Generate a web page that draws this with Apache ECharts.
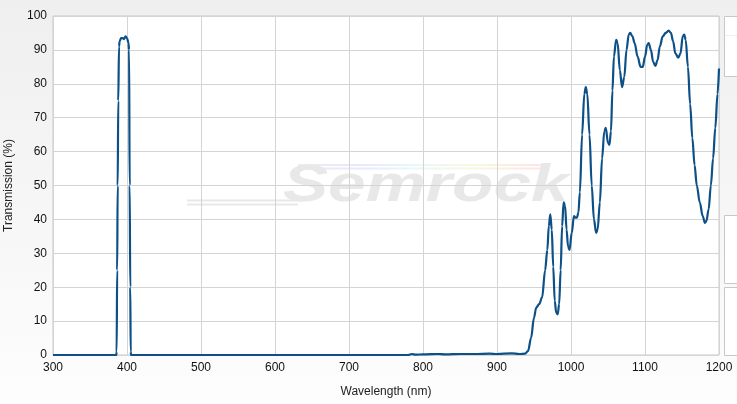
<!DOCTYPE html>
<html>
<head>
<meta charset="utf-8">
<script src="https://cdn.jsdelivr.net/npm/echarts@6/dist/echarts.min.js"></script>
<style>
html,body{margin:0;padding:0;}
#c{width:737px;height:404px;}
</style>
</head>
<body>
<div id="c"></div>
<script>
const wavelengths = [300,380,385.5,386,386.7,387.4,388.2,389.2,390,392,394,396,398,400,402,402.8,403.6,404.4,405,405.6,500,780,785,790,800,820,830,850,870,890,900,920,930,938,942,946,950,953,957,961,965,968,970,972,974,976,978,980,982,984,986,988,990,992,994,996,998,1001,1004,1006,1008,1010,1012,1015,1018,1020,1022,1025,1028,1031,1034,1036,1039,1042,1045,1047,1050,1052,1054,1056,1058,1061,1063,1066,1069,1072,1075,1078,1080,1083,1086,1090,1094,1097,1100,1103,1105,1108,1111,1114,1117,1120,1124,1128,1132,1135,1138,1141,1145,1148,1151,1153,1155,1158,1161,1164,1167,1170,1174,1178,1181,1183,1186,1189,1192,1195,1198,1200];
const transmission = [0,0,0,1,25,50,75,91,92.5,93.5,93.5,93.2,94,93.5,92,90,50,20,1,0,0,0,0.3,0.1,0.2,0.3,0.2,0.3,0.3,0.4,0.3,0.5,0.3,0.4,1.2,5,11,14,15,17,25,31,38,41.5,37,26,16,12.5,12,15,25,38,45,44,37,32,31,36,41,40.5,40.5,42,48,65,77,79,77,65,50,40,36,37,45,58,66,67,62.5,62,66,78,88,93,92,84,79,82,90,94.5,95,94,92,88,85,85,88,91.5,92,90,86.5,85.3,87,91,94,95,95.7,95,92.5,89,87.7,89,94,94.5,93,85,74,64,56,50,45,41,39,39.5,43,50,58,67,77,84.5];
const xTicks = [300,400,500,600,700,800,900,1000,1100,1200];
const yTicks = [0,10,20,30,40,50,60,70,80,90,100];
const xTitle = 'Wavelength (nm)';
const yTitle = 'Transmission (%)';
const watermark = 'Semrock';

const chart = echarts.init(document.getElementById('c'), null, {renderer:'canvas'});
const seriesData = wavelengths.map((w,i)=>[w, transmission[i]]);
const font = '"Liberation Sans", Arial, sans-serif';
const rainbow = {type:'linear',x:0,y:0,x2:1,y2:0,colorStops:[{offset:0,color:'#ebebf3'},{offset:0.25,color:'#e8e8fb'},{offset:0.45,color:'#e6f8fb'},{offset:0.7,color:'#f8f8e2'},{offset:1,color:'#fbe3e3'}]};

chart.setOption({
  animation:false,
  backgroundColor:{type:'linear',x:0,y:0,x2:0,y2:1,colorStops:[{offset:0,color:'#efefef'},{offset:1,color:'#fdfdfd'}]},
  grid:{left:53,right:18,top:16,bottom:49,show:true,borderColor:'#c8c8c8',borderWidth:1,backgroundColor:'transparent',outerBoundsMode:'none',containLabel:false},
  graphic:[
    {type:'rect',z:-10,shape:{x:53,y:16,width:666,height:339},style:{fill:'#ffffff'}},
    {type:'line',z:-5,shape:{x1:187,y1:200.5,x2:302,y2:200.5},style:{stroke:'#e8e8e8',lineWidth:2}},
    {type:'line',z:-5,shape:{x1:187,y1:204.5,x2:298,y2:204.5},style:{stroke:'#e8e8e8',lineWidth:2}},
    {type:'line',z:-5,shape:{x1:298,y1:165,x2:548,y2:165},style:{lineWidth:2,stroke:rainbow}},
    {type:'line',z:-5,shape:{x1:302,y1:168.5,x2:546,y2:168.5},style:{lineWidth:2,stroke:rainbow}},
    {type:'text',z:-5,x:283,y:161,scaleX:1.3,style:{text:watermark,font:'italic bold 52px "Liberation Sans", Arial, sans-serif',fill:'#e8e8e8'}},
    {type:'rect',shape:{x:724.5,y:16.5,width:20,height:60},style:{fill:'#ffffff',stroke:'#c8c8c8',lineWidth:1}},
    {type:'line',shape:{x1:725,y1:35.5,x2:737,y2:35.5},style:{stroke:'#f0f0f0',lineWidth:1}},
    {type:'rect',shape:{x:724.5,y:215.5,width:20,height:68},style:{fill:'#ffffff',stroke:'#c8c8c8',lineWidth:1}},
    {type:'rect',shape:{x:724.5,y:287.5,width:20,height:68},style:{fill:'#ffffff',stroke:'#c8c8c8',lineWidth:1}}
  ],
  xAxis:{
    type:'value',min:xTicks[0],max:xTicks[xTicks.length-1],interval:100,
    name:xTitle,nameLocation:'middle',nameGap:31,
    nameTextStyle:{color:'#222',fontSize:12,fontFamily:font},
    axisLine:{show:false},axisTick:{show:false},
    axisLabel:{color:'#111',fontSize:12,fontFamily:font,margin:7,formatter:v=>String(v)},
    splitLine:{show:true,lineStyle:{color:'#d4d4d4',width:1}}
  },
  yAxis:{
    type:'value',min:yTicks[0],max:yTicks[yTicks.length-1],interval:10,
    name:yTitle,nameLocation:'middle',nameGap:38,
    nameTextStyle:{color:'#222',fontSize:12,fontFamily:font},
    axisLine:{show:false},axisTick:{show:false},
    axisLabel:{color:'#111',fontSize:12,fontFamily:font,margin:6,formatter:v=>String(v)},
    splitLine:{show:true,lineStyle:{color:'#d4d4d4',width:1}}
  },
  series:[{
    type:'line',data:seriesData,showSymbol:false,smooth:0.35,smoothMonotone:'x',
    lineStyle:{color:'#0c5087',width:2.2},
    clip:true
  }]
});
</script>
</body>
</html>
